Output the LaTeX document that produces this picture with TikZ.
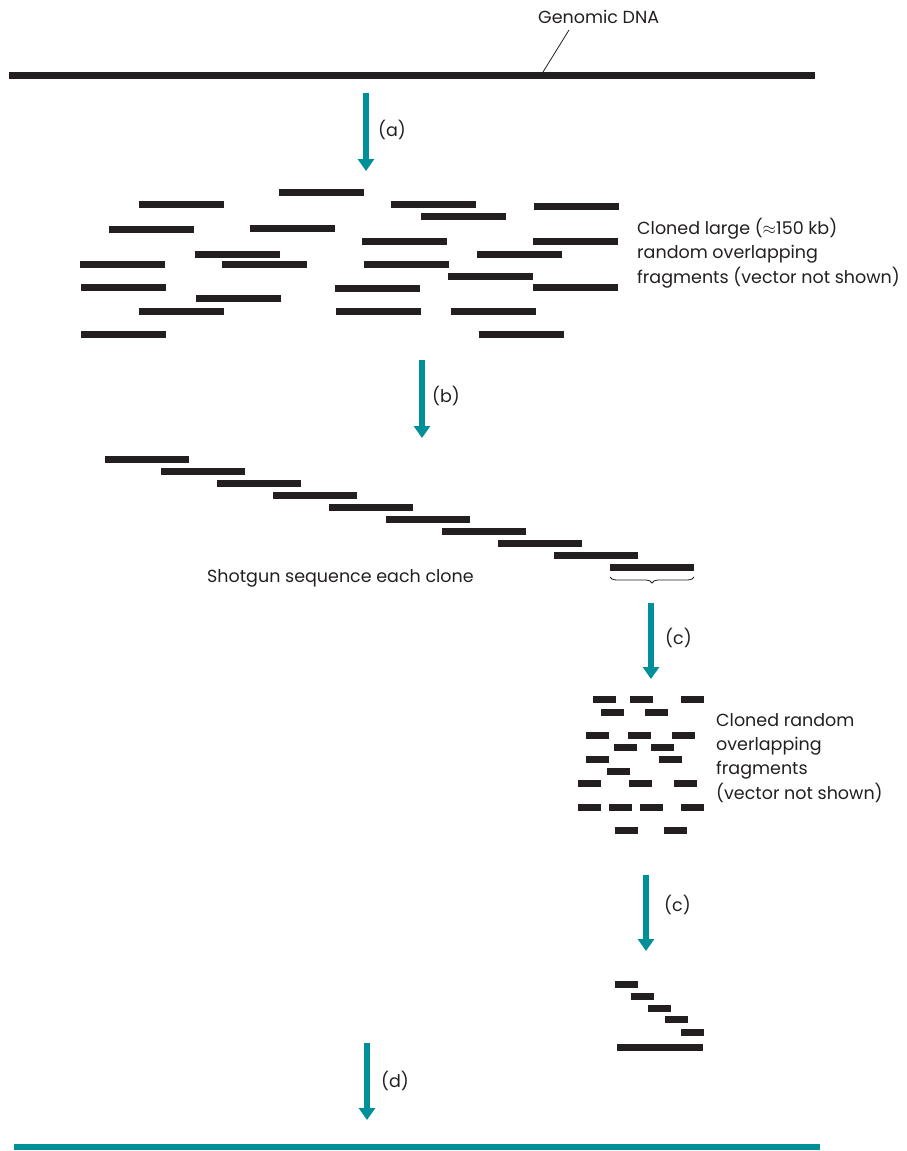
\documentclass[tikz,border=0pt]{standalone}
\usepackage{fontspec}
\setmainfont{Poppins}
\usetikzlibrary{arrows.meta,decorations.pathreplacing}
\definecolor{stepteal}{HTML}{00909A}
\definecolor{barink}{HTML}{231F20}
\begin{document}
\begin{tikzpicture}[x=1pt,y=-1pt,
  lbl/.style={inner sep=0pt,anchor=west,font=\fontsize{17.5}{24.3}\selectfont,text=barink},
  note/.style={inner sep=0pt,anchor=north west,align=left,font=\fontsize{17.5}{24.3}\selectfont,text=barink},
  stage/.style={draw=stepteal,line width=6pt,-{Triangle[width=16pt,length=12pt]}},
  dna/.style={draw=barink,line width=7pt},
  lead/.style={draw=barink,line width=0.8pt}]
\useasboundingbox (0,0) rectangle (906,1151);

% genomic DNA
\coordinate (gL) at (9,75);
\coordinate (gR) at (815,75);
\draw[dna] (gL) -- (gR);
\node[lbl] (gtxt) at (538,17) {Genomic DNA};
\coordinate (gtick) at (543,72);
\draw[lead] (569,30) -- (gtick);

% step (a)
\coordinate (a1) at (366,93);
\coordinate (a2) at (366,171);
\draw[stage] (a1) -- (a2);
\node[lbl] (la) at (378,130) {(a)};

% large cloned fragments
\foreach \x/\y in {279/192,139/204,391/204,534/206,421/216,109/229,250/228,362/241,
  533/241,195/254,477/254,80/264,222/264,364/264,448/276,81/287,335/288,533/287,
  196/298,139/311,336/311,451/311,81/334,479/334}
  \fill[barink] (\x,\y-3.5) rectangle ++(85,7);
\node[note] (large) at (637,218) {Cloned large ($\approx$150 kb)\\random overlapping\\fragments (vector not shown)};

% step (b)
\coordinate (b1) at (422,360);
\coordinate (b2) at (422,438);
\draw[stage] (b1) -- (b2);
\node[lbl] (lb) at (432,396) {(b)};

% ordered clones
\foreach \i in {0,...,9}
  \fill[barink] (105+56.1*\i,459-3.5+12.1*\i) rectangle ++(84,7);
\node[lbl] (shot) at (207,578) {Shotgun sequence each clone};
\draw[line width=0.8pt,barink,decorate,
  decoration={brace,mirror,amplitude=6pt}] (610,577) -- (694,577);

% step (c) first
\coordinate (c1) at (651,603);
\coordinate (c2) at (651,679);
\draw[stage] (c1) -- (c2);
\node[lbl] (lc1) at (665,638) {(c)};

% small cloned fragments
\foreach \x/\y in {593/699,630/699,681/699,601/712,645/712,586/735,628/735,672/735,
  614/747,651/747,586/759,659/759,607/771,578/783,629/783,674/783,
  578/807,609/807,640/807,681/807,615/830,664/830}
  \fill[barink] (\x,\y-3.5) rectangle ++(22.5,7);
\node[note] (small) at (716,713) {Cloned random\\overlapping\\fragments\\(vector not shown)};

% step (c) second
\coordinate (d1) at (646,875);
\coordinate (d2) at (646,951);
\draw[stage] (d1) -- (d2);
\node[lbl] (lc2) at (664,905) {(c)};

% assembled small fragments
\foreach \x/\y in {615/984,631/996,648/1008,665/1019,681/1032}
  \fill[barink] (\x,\y-3.5) rectangle ++(22.5,7);
\fill[barink] (617,1047-3.5) rectangle (703,1047+3.5);

% step (d)
\coordinate (e1) at (367,1043);
\coordinate (e2) at (367,1120);
\draw[stage] (e1) -- (e2);
\node[lbl] (ld) at (381,1081) {(d)};

% finished sequence
\coordinate (fL) at (14,1147);
\coordinate (fR) at (820,1147);
\draw[stepteal,line width=6pt] (fL) -- (fR);
\end{tikzpicture}
\end{document}
